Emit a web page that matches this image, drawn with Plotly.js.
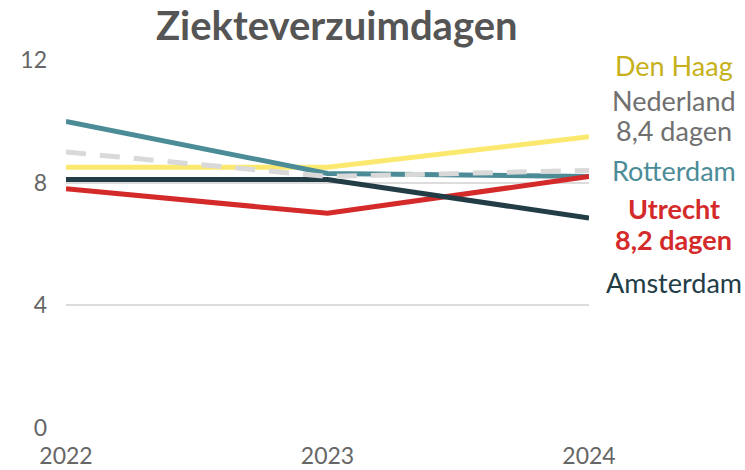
<!DOCTYPE html>
<html><head><meta charset="utf-8">
<script src="https://cdn.plot.ly/plotly-3.0.1.min.js"></script>
<style>html,body{margin:0;padding:0;background:#fff}</style>
</head><body>
<div id="chart" style="width:745px;height:470px"></div>
<script>
const years = [2022, 2023, 2024];
const denHaag = [8.5, 8.5, 9.5];
const rotterdam = [10.0, 8.3, 8.2];
const utrecht = [7.8, 7.0, 8.2];
const amsterdam = [8.1, 8.1, 6.85];
const nederland = [9.0, 8.2, 8.4];
const yTicks = [0, 4, 8, 12];

function tr(y, color, dash, name) {
  return {x: years, y: y, type: 'scatter', mode: 'lines', name: name,
    line: {color: color, width: 5, dash: dash || 'solid'}, hoverinfo: 'skip', cliponaxis: false};
}
const traces = [
  tr(denHaag, '#fbe96f', null, 'Den Haag'),
  tr(rotterdam, '#4b8c97', null, 'Rotterdam'),
  tr(utrecht, '#d42a2a', null, 'Utrecht'),
  tr(amsterdam, '#233d47', null, 'Amsterdam'),
  {x: years, y: nederland, type: 'scatter', mode: 'lines', name: 'Nederland',
   line: {color: '#d9d9d9', width: 5, dash: '20px,14px'}, hoverinfo: 'skip', cliponaxis: false}
];

const F = 'Lato, "Open Sans", sans-serif';
function lab(text, y, color, bold) {
  return {xref: 'paper', yref: 'paper', x: 1.1625, y: y, xanchor: 'center', yanchor: 'middle',
    text: bold ? '<b>' + text + '</b>' : text, showarrow: false,
    font: {family: F, size: 27, color: color}};
}
const annotations = [
  lab('Den Haag', 1.0 - (65-60)/368, '#c6b11a'),
  lab('Nederland', 1.0 - (100-60)/368, '#707070'),
  lab('8,4 dagen', 1.0 - (130-60)/368, '#707070'),
  lab('Rotterdam', 1.0 - (170-60)/368, '#4b8c97'),
  lab('Utrecht', 1.0 - (208-60)/368, '#d42a2a', true),
  lab('8,2 dagen', 1.0 - (239-60)/368, '#d42a2a', true),
  lab('Amsterdam', 1.0 - (282-60)/368, '#233d47')
];

const layout = {
  width: 745, height: 470,
  margin: {l: 66, r: 156, t: 60, b: 42},
  paper_bgcolor: '#fff', plot_bgcolor: '#fff',
  showlegend: false,
  title: {text: '<b>Ziekteverzuimdagen</b>', x: 0.452, xanchor: 'center', y: 0.945, yanchor: 'middle',
    font: {family: F, size: 40, color: '#555555'}},
  xaxis: {range: [2022, 2024], tickvals: years, ticktext: years.map(String),
    showgrid: false, zeroline: false, showline: false, ticks: '',
    tickfont: {family: F, size: 23, color: '#666666'}, ticklabelstandoff: 12},
  yaxis: {range: [0, 12], tickvals: yTicks, ticktext: yTicks.map(String),
    showgrid: true, gridcolor: '#dcdcdc', gridwidth: 2, zeroline: false, showline: false, ticks: '',
    tickfont: {family: F, size: 23, color: '#666666'}, ticklabelstandoff: 18},
  annotations: annotations
};
Plotly.newPlot('chart', traces, layout, {displayModeBar: false, staticPlot: true});
</script>
</body></html>
